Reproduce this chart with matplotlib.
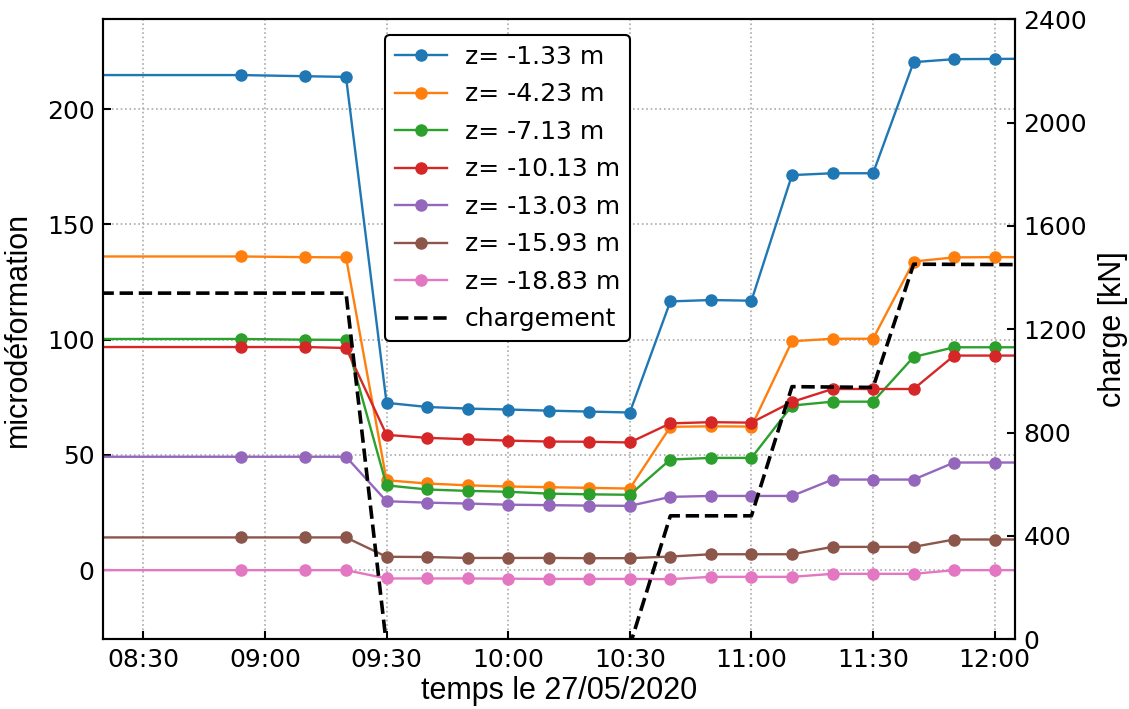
import matplotlib
matplotlib.use("Agg")
import matplotlib.pyplot as plt
import matplotlib.dates as mdates
import pandas as pd

day = "2020-05-27 "
times = ["08:10", "08:54", "09:10", "09:20", "09:30", "09:40", "09:50", "10:00",
         "10:10", "10:20", "10:30", "10:40", "10:50", "11:00", "11:10", "11:20",
         "11:30", "11:40", "11:50", "12:00", "12:10"]

z_133 = [214.8, 214.8, 214.3, 214.0, 72.6, 70.8, 70.1, 69.7, 69.2, 68.8, 68.4,
         116.6, 117.2, 116.9, 171.4, 172.2, 172.2, 220.4, 221.7, 221.8, 221.9]
z_423 = [136.1, 136.1, 135.8, 135.7, 39.0, 37.6, 36.8, 36.3, 36.0, 35.7, 35.4,
         62.2, 62.4, 62.3, 99.3, 100.4, 100.4, 133.9, 135.7, 135.8, 135.8]
z_713 = [100.3, 100.3, 100.0, 99.9, 36.8, 35.0, 34.4, 34.0, 33.2, 32.9, 32.7,
         48.0, 48.7, 48.7, 71.4, 73.1, 73.1, 92.5, 96.7, 96.7, 96.7]
z_1013 = [96.8, 96.8, 96.8, 96.4, 58.7, 57.4, 56.8, 56.2, 55.8, 55.7, 55.4,
          63.7, 64.2, 64.0, 73.0, 78.6, 78.6, 78.6, 93.1, 93.1, 93.1]
z_1303 = [49.2, 49.2, 49.2, 49.2, 29.9, 29.3, 28.9, 28.4, 28.2, 28.0, 27.9,
          31.8, 32.2, 32.2, 32.2, 39.3, 39.3, 39.3, 46.7, 46.7, 46.7]
z_1593 = [14.2, 14.2, 14.2, 14.2, 5.8, 5.7, 5.3, 5.3, 5.3, 5.2, 5.2,
          5.9, 6.9, 6.9, 6.9, 10.1, 10.1, 10.1, 13.3, 13.3, 13.3]
z_1883 = [0.0, 0.0, 0.0, 0.0, -3.6, -3.6, -3.6, -3.7, -3.8, -3.8, -3.8,
          -3.9, -2.9, -2.9, -2.9, -1.6, -1.6, -1.6, 0.0, 0.0, 0.0]

series = [z_133, z_423, z_713, z_1013, z_1303, z_1593, z_1883]
labels = ["z= -1.33 m", "z= -4.23 m", "z= -7.13 m", "z= -10.13 m",
          "z= -13.03 m", "z= -15.93 m", "z= -18.83 m"]

charge_times = ["08:10", "09:20", "09:30", "10:30", "10:40", "11:00", "11:10",
                "11:30", "11:40", "12:10"]
charge_kn = [1340, 1340, -25, -25, 478, 478, 978, 975, 1452, 1450]

t = pd.to_datetime([day + s for s in times])
tc = pd.to_datetime([day + s for s in charge_times])

fig = plt.figure(figsize=(11.29, 7.09), dpi=100)
ax = fig.add_axes([0.0910, 0.0983, 0.8080, 0.8745])
ax2 = ax.twinx()

colors = ["C0", "C1", "C2", "C3", "C4", "C5", "C6"]
handles = []
for vals, lab, c in zip(series, labels, colors):
    h, = ax.plot(t, vals, "-o", color=c, lw=1.7, ms=8, label=lab)
    handles.append(h)
hc, = ax2.plot(tc, charge_kn, "--", color="black", lw=2.6, label="chargement")
handles.append(hc)

ax.set_xlim(pd.Timestamp(day + "08:20"), pd.Timestamp(day + "12:05"))
ax.set_ylim(-30, 239)
ax2.set_ylim(0, 2400)
ax.set_yticks([0, 50, 100, 150, 200])
ax2.set_yticks([0, 400, 800, 1200, 1600, 2000, 2400])

ax.xaxis.set_major_locator(mdates.MinuteLocator(byminute=[0, 30]))
ax.xaxis.set_major_formatter(mdates.DateFormatter("%H:%M"))

ax.grid(True, linestyle=":", color="#aaaaaa", lw=1.2)

for a in (ax, ax2):
    a.tick_params(direction="in", length=6, width=1.5, labelsize=18, pad=6)
    for sp in a.spines.values():
        sp.set_linewidth(1.5)

lab_font = dict(family=["Liberation Sans", "DejaVu Sans"], size=22)
ax.set_xlabel("temps le 27/05/2020", labelpad=3, **lab_font)
ax.set_ylabel("microdéformation", labelpad=10, **lab_font)
ax2.set_ylabel("charge [kN]", labelpad=8, **lab_font)

leg = ax2.legend(handles=handles, loc="upper left", bbox_to_anchor=(0.309, 0.975),
                 borderaxespad=0, fontsize=18, framealpha=1, edgecolor="black",
                 fancybox=True, labelspacing=0.54, handlelength=2.1, handletextpad=0.7)
leg.get_frame().set_linewidth(1.5)

fig.savefig("out.png", dpi=100)
